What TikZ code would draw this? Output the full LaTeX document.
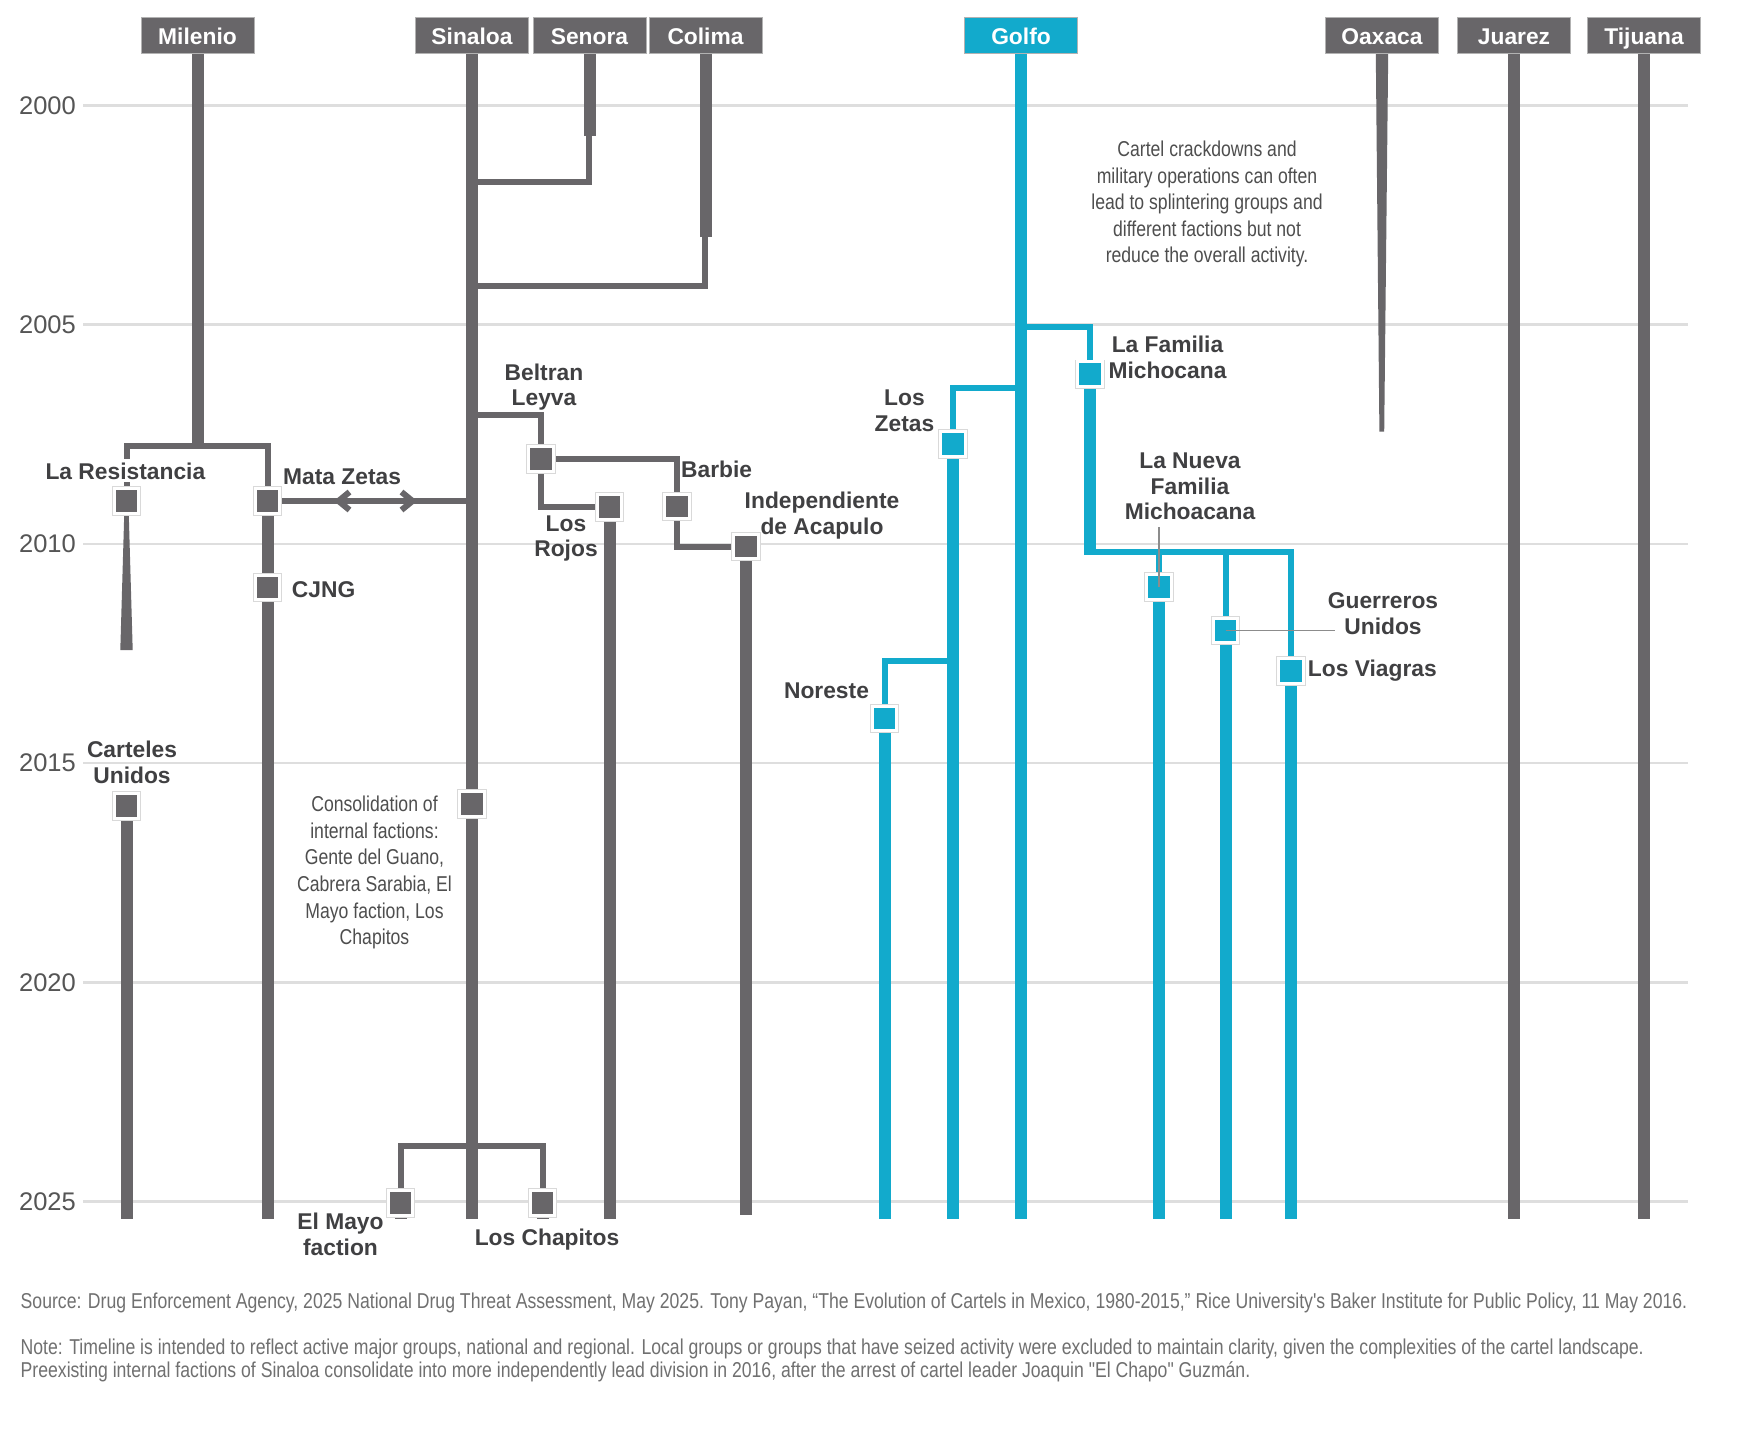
\documentclass[tikz,border=0pt]{standalone}
\usepackage{fontspec}
\setmainfont{Liberation Sans}
\newfontfamily\condfont{Liberation Sans}[FakeStretch=0.82]
\definecolor{cgray}{RGB}{104,102,105}
\definecolor{cblue}{RGB}{18,170,204}
\definecolor{ctext}{RGB}{64,64,66}
\definecolor{cgrid}{RGB}{222,222,222}
\definecolor{cnote}{RGB}{78,78,78}
\definecolor{cfoot}{RGB}{112,112,112}
\definecolor{cyear}{RGB}{85,85,85}
\newcommand\lbf{\fontsize{22.8}{25.5}\selectfont\bfseries}
\pgfdeclarelayer{gridlayer}
\pgfdeclarelayer{linelayer}
\pgfsetlayers{gridlayer,linelayer,main}
\tikzset{
  vline/.style={line width=12, line cap=butt},
  conn/.style={line width=6, line cap=butt, line join=miter},
  chev/.style={line width=6, line cap=butt, line join=miter, draw=cgray},
  gridl/.style={line width=2.7, draw=cgrid},
  yearlab/.style={font=\fontsize{25.5}{28}\selectfont, text=cyear, inner sep=0, anchor=east},
  ttl/.style={fill=cgray, draw=black!30, line width=0.8, minimum width=113, minimum height=36, inner sep=0, text=white, font=\lbf, text height=18, text depth=0},
  gbox/.style={minimum size=24.5, inner sep=0, fill=cgray, draw=white, line width=3, preaction={draw=black!15, line width=4.6}},
  bbox/.style={gbox, fill=cblue},
  lab/.style={font=\lbf, text=ctext, inner sep=0, align=center},
  notetxt/.style={font=\condfont\fontsize{21.5}{26.6}\selectfont, text=cnote, inner sep=0, align=center},
  foot/.style={font=\condfont\fontsize{21.5}{23}\selectfont, text=cfoot, inner sep=0, align=left},
  leader/.style={line width=1.3, draw=black!45},
}
\begin{document}
\begin{tikzpicture}[x=1pt,y=-1pt]
\useasboundingbox (0,0) rectangle (1740,1440);
\begin{pgfonlayer}{gridlayer}
\fill[white] (0,0) rectangle (1740,1440);
\foreach \yr/\yy in {2000/105.6,2005/324.8,2010/544,2015/763.1,2020/982.3,2025/1201.5}{
  \draw[gridl] (83,\yy) -- (1688,\yy);
  \node[yearlab] (y\yr) at (76,\yy) {\yr};
}
\end{pgfonlayer}

% ---------- title boxes
\node[ttl] (milenio) at (197.5,35.4) {Milenio};
\node[ttl] (sinaloa) at (472,35.4) {Sinaloa};
\node[ttl] (senora) at (589.5,35.4) {Senora};
\node[ttl] (colima) at (705.5,35.4) {Colima};
\node[ttl,fill=cblue] (golfo) at (1021,35.4) {Golfo};
\node[ttl] (oaxaca) at (1382,35.4) {Oaxaca};
\node[ttl] (juarez) at (1514,35.4) {Juarez};
\node[ttl] (tijuana) at (1644,35.4) {Tijuana};

% ---------- event boxes
\node[gbox] (resbox) at (126.5,501) {};
\node[gbox] (matabox) at (267.5,501) {};
\node[gbox] (cjngbox) at (267.5,587.5) {};
\node[gbox] (cartbox) at (126.5,806) {};
\node[gbox] (beltbox) at (541,459) {};
\node[gbox] (rojobox) at (609.5,507) {};
\node[gbox] (barbbox) at (677,506.5) {};
\node[gbox] (indebox) at (746,546.5) {};
\node[gbox] (sinbox) at (472,804) {};
\node[gbox] (mayobox) at (400.5,1203) {};
\node[gbox] (chapbox) at (542.5,1203) {};
\node[bbox] (zetabox) at (953,444) {};
\node[bbox] (norebox) at (884.5,718.3) {};
\node[bbox] (famibox) at (1090,374.2) {};
\node[bbox] (nuevbox) at (1159,587) {};
\node[bbox] (guerbox) at (1225.5,630.3) {};
\node[bbox] (viagbox) at (1291,671) {};

% ---------- junction coordinates
\coordinate (milJ) at (197.5,449);
\coordinate (resL) at (126.5,446);
\coordinate (resR) at (267.5,446);
\coordinate (mataS) at (472,501);
\coordinate (senA) at (589.5,136);
\coordinate (senB) at (588.5,136);
\coordinate (senC) at (588.5,182);
\coordinate (senS) at (472,182);
\coordinate (colA) at (705.5,236.5);
\coordinate (colB) at (705,236.5);
\coordinate (colC) at (705,286);
\coordinate (colS) at (472,286);
\coordinate (belS) at (472,415);
\coordinate (belC) at (541,415);
\coordinate (barC) at (677,459);
\coordinate (rojC) at (541,507);
\coordinate (indC) at (677,546.5);
\coordinate (chS1) at (400.5,1146);
\coordinate (chS2) at (542.5,1146);
\coordinate (zetS) at (1021,388);
\coordinate (zetC) at (953,388);
\coordinate (norS) at (953,661.3);
\coordinate (norC) at (884.5,661.3);
\coordinate (famS) at (1021,327);
\coordinate (famC) at (1090,327);
\coordinate (famE) at (1090,555);
\coordinate (famH) at (1090,552);
\coordinate (nuevC) at (1159,552);
\coordinate (guerC) at (1225.5,552);
\coordinate (viagC) at (1291,552);
\coordinate (nuevL) at (1159,527);
\coordinate (guerL) at (1335,630.3);

\begin{pgfonlayer}{linelayer}
% Milenio
\draw[vline,cgray] (milenio.south) -- (milJ);
\draw[conn,cgray] (resbox.center) -- (resL) -- (resR) -- (matabox.center);
\fill[cgray] (124.3,512) -- (128.7,512) -- (132.7,650) -- (120.3,650) -- cycle;
\draw[vline,cgray] (matabox.center) -- (267.5,1219);
\draw[conn,cgray] (matabox.center) -- (mataS);
\draw[chev] (349.5,492) -- (338.5,501) -- (349.5,510);
\draw[chev] (401.5,492) -- (412.5,501) -- (401.5,510);
\draw[vline,cgray] (cartbox.center) -- (126.5,1219);
% Sinaloa
\draw[vline,cgray] (sinaloa.south) -- (472,1219);
\draw[vline,cgray] (senora.south) -- (senA);
\draw[conn,cgray] (senB) -- (senC) -- (senS);
\draw[vline,cgray] (colima.south) -- (colA);
\draw[conn,cgray] (colB) -- (colC) -- (colS);
\draw[conn,cgray] (belS) -- (belC) -- (beltbox.center);
\draw[conn,cgray] (beltbox.center) -- (barC) -- (barbbox.center);
\draw[conn,cgray] (beltbox.center) -- (rojC) -- (rojobox.center);
\draw[vline,cgray] (rojobox.center) -- (609.5,1219);
\draw[conn,cgray] (barbbox.center) -- (indC) -- (indebox.center);
\draw[vline,cgray] (indebox.center) -- (746,1215);
\draw[conn,cgray] (mayobox.center) -- (chS1) -- (chS2) -- (chapbox.center);
\draw[vline,cgray] (mayobox.center) -- (400.5,1219);
\draw[vline,cgray] (chapbox.center) -- (542.5,1219);
% Golfo
\draw[vline,cblue] (golfo.south) -- (1021,1219);
\draw[conn,cblue] (zetS) -- (zetC) -- (zetabox.center);
\draw[vline,cblue] (zetabox.center) -- (953,1219);
\draw[conn,cblue] (norS) -- (norC) -- (norebox.center);
\draw[vline,cblue] (norebox.center) -- (884.5,1219);
\draw[conn,cblue] (famS) -- (famC) -- (famibox.center);
\draw[vline,cblue] (famibox.center) -- (famE);
\draw[conn,cblue] (famH) -- (viagC) -- (viagbox.center);
\draw[conn,cblue] (nuevC) -- (nuevbox.center);
\draw[conn,cblue] (guerC) -- (guerbox.center);
\draw[vline,cblue] (nuevbox.center) -- (1159,1219);
\draw[vline,cblue] (guerbox.center) -- (1225.5,1219);
\draw[vline,cblue] (viagbox.center) -- (1291,1219);
% others
\fill[cgray] (1375.8,53.4) -- (1388.2,53.4) -- (1384.2,431.7) -- (1379.4,431.7) -- cycle;
\draw[vline,cgray] (juarez.south) -- (1514,1219);
\draw[vline,cgray] (tijuana.south) -- (1644,1219);
\end{pgfonlayer}

% ---------- leaders
\draw[leader] (nuevL) -- (nuevbox.center);
\draw[leader] (guerbox.center) -- (guerL);

% ---------- labels
\node[lab,anchor=base,fill=white,inner xsep=1,inner ysep=3] (reslab) at (125.4,479) {La Resistancia};
\node[lab,anchor=base west] (matalab) at (283,484) {Mata Zetas};
\node[lab,anchor=base west] (cjnglab) at (291.7,597.3) {CJNG};
\node[lab] (cartlab) at (132,762.5) {Carteles\\Unidos};
\node[lab] (beltlab) at (544,387) {Beltran\\Leyva};
\node[lab,anchor=base west] (barblab) at (681,477.6) {Barbie};
\node[lab] (rojolab) at (566,538.3) {Los\\Rojos};
\node[lab] (indelab) at (822,515.4) {Independiente\\de Acapulo};
\node[lab] (mayolab) at (340.5,1234.2) {\fontsize{22.8}{30.3}\selectfont El Mayo\\faction};
\node[lab,anchor=base] (chaplab) at (547,1245) {Los Chapitos};
\node[lab] (zetalab) at (904.5,410.8) {Los\\Zetas};
\node[lab,anchor=base] (norelab) at (826.5,698.3) {Noreste};
\node[lab] (familab) at (1167.5,357.5) {La Familia\\Michocana};
\node[lab] (nuevlab) at (1190,486.4) {La Nueva\\Familia\\Michoacana};
\node[lab] (guerlab) at (1383,613.7) {\fontsize{22.8}{26}\selectfont Guerreros\\Unidos};
\node[lab,anchor=base west] (viaglab) at (1307.7,676.6) {Los Viagras};

% ---------- notes
\node[notetxt] (crack) at (1207,204.1) {Cartel crackdowns and\\military operations can often\\lead to splintering groups and\\different factions but not\\reduce the overall activity.};
\node[notetxt] (consol) at (374.5,872.6) {Consolidation of\\internal factions:\\Gente del Guano,\\Cabrera Sarabia, El\\Mayo faction, Los\\Chapitos};

% ---------- footer
\node[foot,anchor=base west] (source) at (20.5,1308.7) {Source: Drug Enforcement Agency, 2025 National Drug Threat Assessment, May 2025. Tony Payan, “The Evolution of Cartels in Mexico, 1980-2015,” Rice University's Baker Institute for Public Policy, 11 May 2016.};
\node[foot,anchor=north west] (note) at (20.5,1339) {Note: Timeline is intended to reflect active major groups, national and regional. Local groups or groups that have seized activity were excluded to maintain clarity, given the complexities of the cartel landscape.\\Preexisting internal factions of Sinaloa consolidate into more independently lead division in 2016, after the arrest of cartel leader Joaquin "El Chapo" Guzmán.};
\end{tikzpicture}
\end{document}
